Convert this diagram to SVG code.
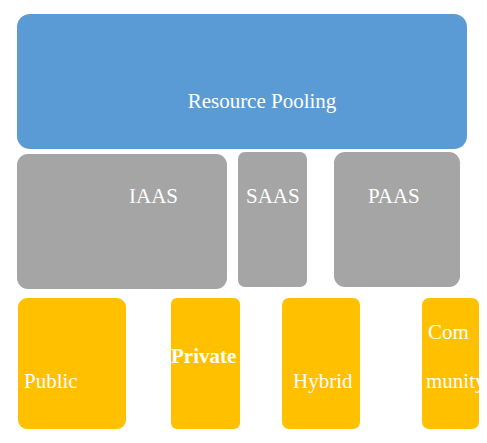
<svg xmlns="http://www.w3.org/2000/svg" width="487" height="443" viewBox="0 0 487 443">
<style>
.t{font-family:"Liberation Serif","Times New Roman",serif;font-size:21px;fill:#ffffff}
.b{fill:#5B9BD5}
.g{fill:#A5A5A5}
.y{fill:#FFC000}
</style>
<defs>
<clipPath id="cc"><rect x="422" y="298" width="57" height="131" rx="7"/></clipPath>
</defs>
<rect width="487" height="443" fill="#ffffff"/>
<g id="resource-pooling">
<rect class="b" x="17" y="14" width="450" height="135" rx="13"/>
<text class="t" x="262" y="108" text-anchor="middle">Resource Pooling</text>
</g>
<g id="iaas">
<rect class="g" x="17" y="154" width="210" height="135" rx="11"/>
<text class="t" x="129" y="203">IAAS</text>
</g>
<g id="saas">
<rect class="g" x="238" y="152" width="69" height="135" rx="7"/>
<text class="t" x="246" y="203">SAAS</text>
</g>
<g id="paas">
<rect class="g" x="334" y="152" width="126" height="135" rx="11"/>
<text class="t" x="368" y="203">PAAS</text>
</g>
<g id="public">
<rect class="y" x="18" y="298" width="108" height="131" rx="9"/>
<text class="t" x="24" y="388">Public</text>
</g>
<g id="private">
<rect class="y" x="171" y="298" width="69" height="131" rx="6"/>
<text class="t" x="171" y="363" font-weight="bold" font-size="20">Private</text>
</g>
<g id="hybrid">
<rect class="y" x="282" y="298" width="78" height="131" rx="7"/>
<text class="t" x="293" y="388">Hybrid</text>
</g>
<g id="community">
<rect class="y" x="422" y="298" width="57" height="131" rx="7"/>
<g clip-path="url(#cc)">
<text class="t" x="428" y="339">Com</text>
<text class="t" x="426" y="388">munity</text>
</g>
</g>
<g id="connectors"/>
</svg>
